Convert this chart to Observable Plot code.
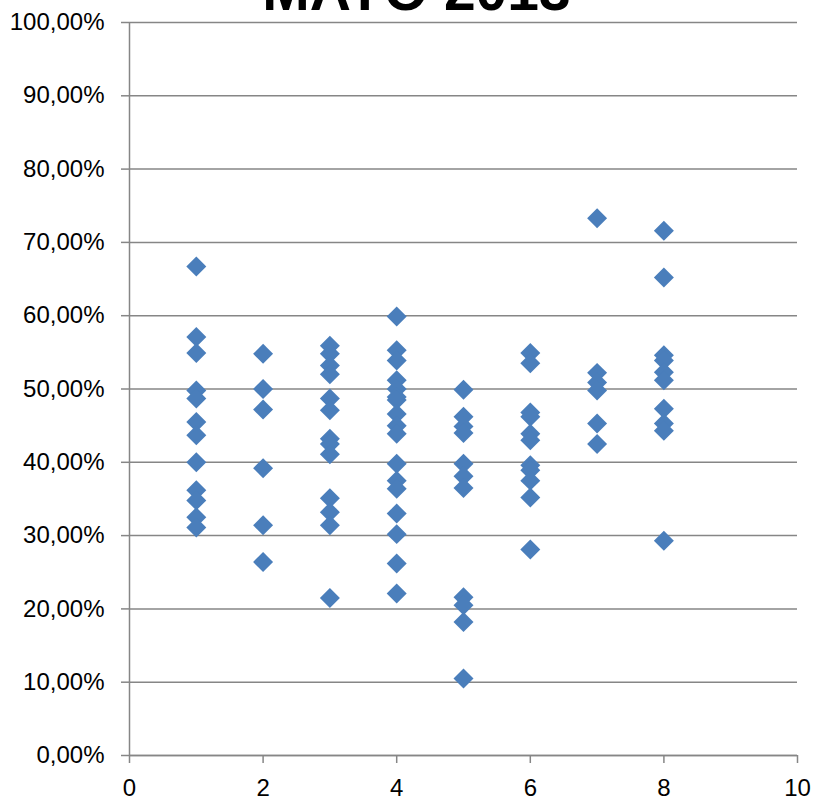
<!DOCTYPE html>
<html><head><meta charset="utf-8">
<script src="https://cdn.jsdelivr.net/npm/d3@7"></script>
<script src="https://cdn.jsdelivr.net/npm/@observablehq/plot@0.6"></script>
<style>body{margin:0;background:#fff;overflow:hidden}</style>
</head><body><div id="chart"></div>
<script>
const title = "MAYO 2013";
const xTicks = [0, 2, 4, 6, 8, 10];
const yTicks = [0, 10, 20, 30, 40, 50, 60, 70, 80, 90, 100];
// values in percent, one array per x position
const group1 = [66.7, 57.1, 54.9, 49.8, 48.7, 45.5, 43.7, 40.0, 36.2, 34.8, 32.5, 31.1];
const group2 = [54.8, 50.0, 47.2, 39.2, 31.4, 26.4];
const group3 = [55.9, 54.8, 53.2, 52.0, 48.7, 47.1, 43.2, 42.5, 41.1, 35.1, 33.2, 31.4, 21.5];
const group4 = [59.9, 55.3, 53.9, 51.2, 50.0, 48.9, 48.5, 46.6, 45.0, 43.9, 39.8, 37.5, 36.4, 33.0, 30.2, 26.2, 22.1];
const group5 = [49.9, 46.2, 44.9, 44.0, 39.8, 38.1, 36.5, 21.6, 20.5, 18.2, 10.5];
const group6 = [54.9, 53.5, 46.8, 46.2, 43.9, 43.0, 39.6, 38.9, 37.5, 35.2, 28.1];
const group7 = [73.3, 52.2, 50.9, 49.8, 45.3, 42.5];
const group8 = [71.6, 65.2, 54.6, 53.9, 52.3, 51.2, 47.3, 45.3, 44.3, 29.3];
const groups = [group1, group2, group3, group4, group5, group6, group7, group8];

const data = groups.flatMap((vals, i) => vals.map(v => ({x: i + 1, y: v})));
const gray = "#868686";
const fmt = d => d.toFixed(2).replace(".", ",") + "%";

const chart = Plot.plot({
  width: 815,
  height: 802,
  marginLeft: 129,
  marginRight: 18,
  marginTop: 22,
  marginBottom: 47,
  style: {fontFamily: "'Liberation Sans', Arial, sans-serif", fontSize: "24px", color: "#000", background: "#fff", overflow: "visible"},
  x: {domain: [0, 10], label: null},
  y: {domain: [0, 100], label: null},
  marks: [
    Plot.gridY(yTicks, {stroke: gray, strokeOpacity: 1, strokeWidth: 1.5}),
    Plot.ruleX([0], {stroke: gray, strokeWidth: 1.5}),
    Plot.ruleY([0], {stroke: gray, strokeWidth: 1.5}),
    Plot.axisY({ticks: yTicks, tickFormat: fmt, tickSize: 8, tickPadding: 17, stroke: gray, strokeWidth: 1.5, fontSize: 24, label: null}),
    Plot.axisX({ticks: xTicks, tickFormat: d => String(d), tickSize: 8, tickPadding: 15, stroke: gray, strokeWidth: 1.5, fontSize: 24, label: null}),
    Plot.dot(data, {x: "x", y: "y", symbol: "diamond2", r: 9, fill: "#4a7ebb", stroke: "none"}),
    Plot.text([title], {frameAnchor: "top", dy: -13, dx: -47, lineAnchor: "bottom", fontSize: 57, fontWeight: "bold", fill: "#000"})
  ]
});
document.getElementById("chart").appendChild(chart);
</script>
</body></html>
